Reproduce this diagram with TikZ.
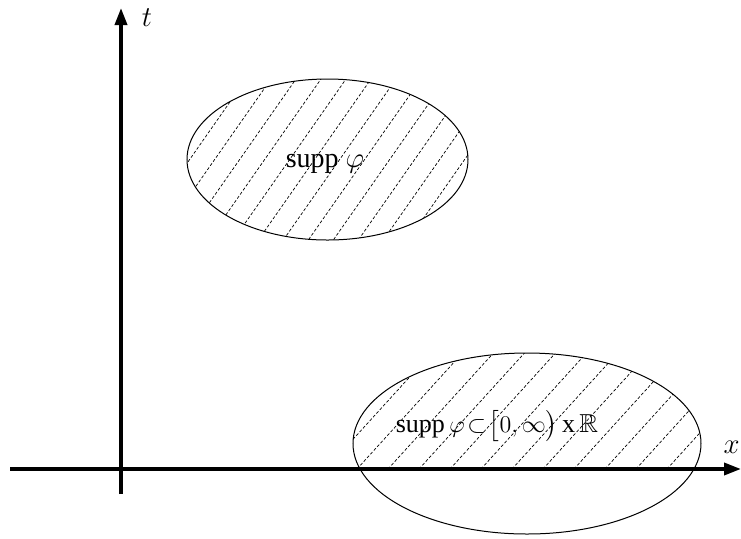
\documentclass[tikz,border=0pt]{standalone}
\usepackage{amsmath,amssymb}
\usepackage{fontspec}
\setmainfont{Liberation Serif}
\usetikzlibrary{arrows.meta}

\begin{document}
\begin{tikzpicture}[x=0.5pt, y=-0.5pt,
  axis/.style={line width=1.8pt, -{Triangle[length=8.5pt,width=6pt]}},
  hatch/.style={line width=0.35pt, dash pattern=on 1.5pt off 1pt},
  rim/.style={line width=0.5pt},
  lab/.style={font=\fontsize{14}{16}\selectfont, inner sep=0pt}]
\useasboundingbox (0,0) rectangle (741,538);

% --- assi ---
\coordinate (xstart) at (10,469);
\coordinate (xend) at (741,469);
\coordinate (tstart) at (121,494);
\coordinate (tend) at (121,8);
\draw[axis] (xstart) -- (xend);
\draw[axis] (tstart) -- (tend);
\node[lab] (tlab) at (147,18) {$t$};
\node[lab, anchor=east] (xlab) at (740,447) {$x$};

% --- supporto in alto ---
\begin{scope}
  \clip (327.5,159.5) ellipse [x radius=140.5, y radius=80.5];
  \foreach \k in {-6,...,14}
    \draw[hatch] ({144.3+25*\k},260) -- ++(140,-200);
\end{scope}
\draw[rim] (327.5,159.5) ellipse [x radius=140.5, y radius=80.5];
\node[lab] (supptop) at (325,164) {supp $\varphi$};

% --- supporto in basso ---
\begin{scope}
  \clip (0,0) rectangle (741,469);
  \clip (527,443.5) ellipse [x radius=174, y radius=90.5];
  \foreach \k in {-1,...,12}
    \draw[hatch] ({357+31*\k},469) -- ++(120,-132);
\end{scope}
\draw[rim] (527,443.5) ellipse [x radius=174, y radius=90.5];
\node[lab, font=\fontsize{13}{15}\selectfont] (suppbot) at (497,426)
  {supp\,$\varphi\!\subset\!\bigl[0,\infty\bigr)$\,x\,$\mathbb{R}$};

\end{tikzpicture}
\end{document}
